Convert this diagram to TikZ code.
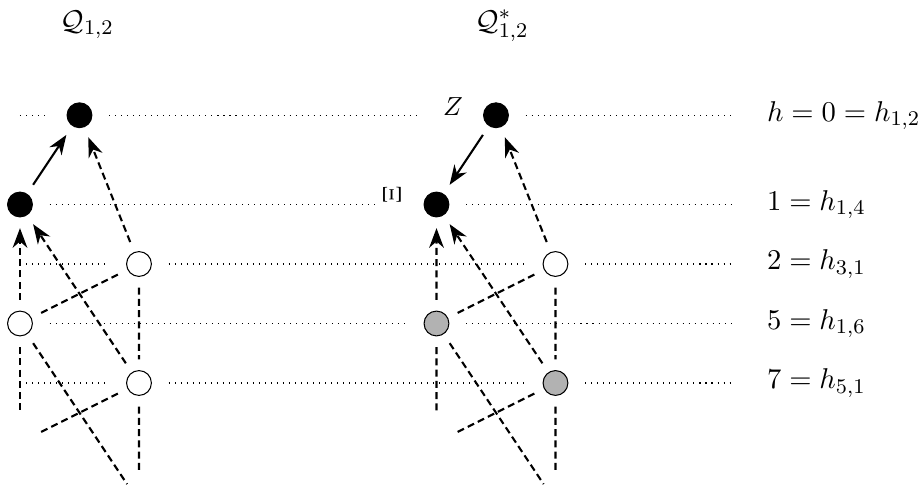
\documentclass[tikz,border=0pt]{standalone}
\usepackage{tikz}
\usetikzlibrary{arrows.meta}
\usepackage{amssymb}
\usepackage{amsmath}

\begin{document}
\begin{tikzpicture}[scale=.8,font=\fontsize{11}{13}\selectfont,
  vtx/.style={circle,draw,inner sep=0pt,minimum size=9.5pt,outer sep=4.3pt},
  blk/.style={vtx,fill=black},
  wht/.style={vtx,fill=white},
  gry/.style={vtx,fill=black!30},
  tag/.style={inner sep=0pt,font=\fontsize{10}{12}\selectfont},
  lev/.style={dash pattern=on .4pt off 1.9pt},
  emb/.style={thick,dash pattern=on 2.7pt off 1.6pt},
  arr/.style={-{Stealth[length=7.5pt,width=5.6pt,inset=2.4pt]}}]
\useasboundingbox (-0.336,-1.798) rectangle (15.16,6.437);
% the level lines
\draw[lev] (0,4.5) -- (0.5,4.5) (1.5,4.5) -- (6.7,4.5) (8.5,4.5) -- (12,4.5);
\draw[lev] (0.5,3) -- (6,3) (7.5,3) -- (12,3);
\draw[lev] (0,2) -- (1.5,2) (2.5,2) -- (8.5,2) (9.5,2) -- (12,2);
\draw[lev] (0.5,1) -- (6.5,1) (7.5,1) -- (12,1);
\draw[lev] (0,0) -- (1.5,0) (2.5,0) -- (8.5,0) (9.5,0) -- (12,0);
% titles
\node[anchor=base] (q) at (1.13,5.93) {$\mathcal{Q}_{1,2}$};
\node[anchor=base] (qs) at (8.1,5.93) {$\mathcal{Q}^*_{1,2}$};
% levels
\node[anchor=west] (h0) at (12.4,4.5) {$h=0=h_{1,2}$};
\node[anchor=west] (h1) at (12.4,3) {$1=h_{1,4}$};
\node[anchor=west] (h2) at (12.4,2) {$2=h_{3,1}$};
\node[anchor=west] (h5) at (12.4,1) {$5=h_{1,6}$};
\node[anchor=west] (h7) at (12.4,0) {$7=h_{5,1}$};
%     left diagram
\node[blk] (L0) at (1,4.5) {};
\node[blk] (L1) at (0,3) {};
\node[wht] (L2) at (2,2) {};
\node[wht] (L5) at (0,1) {};
\node[wht] (L7) at (2,0) {};
\coordinate (La) at (0,-0.5);
\coordinate (Lb) at (1.8,-1.7);
\coordinate (Lc) at (0.3,-0.85);
\coordinate (Ld) at (2,-1.5);
\draw[thick,arr] (L1) -- (L0);
\draw[emb,arr] (L2) -- (L0);
\draw[emb,arr] (L5) -- (L1);
\draw[emb,arr] (L7) -- (L1);
\draw[emb] (L2) -- (L5);
\draw[emb] (L2) -- (L7);
\draw[emb] (L5) -- (La);
\draw[emb] (L5) -- (Lb);
\draw[emb] (L7) -- (Lc);
\draw[emb] (L7) -- (Ld);
%     right diagram
\node[blk] (R0) at (8,4.5) {};
\node[blk] (R1) at (7,3) {};
\node[wht] (R2) at (9,2) {};
\node[gry] (R5) at (7,1) {};
\node[gry] (R7) at (9,0) {};
\node[tag,anchor=base east] (z) at (7.45,4.5) {$Z$};
\node[tag,rotate=90,anchor=base west] (xi) at (6.4,3) {$\Xi$};
\coordinate (Ra) at (7,-0.5);
\coordinate (Rb) at (8.8,-1.7);
\coordinate (Rc) at (7.3,-0.85);
\coordinate (Rd) at (9,-1.5);
\draw[thick,arr] (R0) -- (R1);
\draw[emb,arr] (R2) -- (R0);
\draw[emb,arr] (R5) -- (R1);
\draw[emb,arr] (R7) -- (R1);
\draw[emb] (R2) -- (R5);
\draw[emb] (R2) -- (R7);
\draw[emb] (R5) -- (Ra);
\draw[emb] (R5) -- (Rb);
\draw[emb] (R7) -- (Rc);
\draw[emb] (R7) -- (Rd);
\end{tikzpicture}
\end{document}
